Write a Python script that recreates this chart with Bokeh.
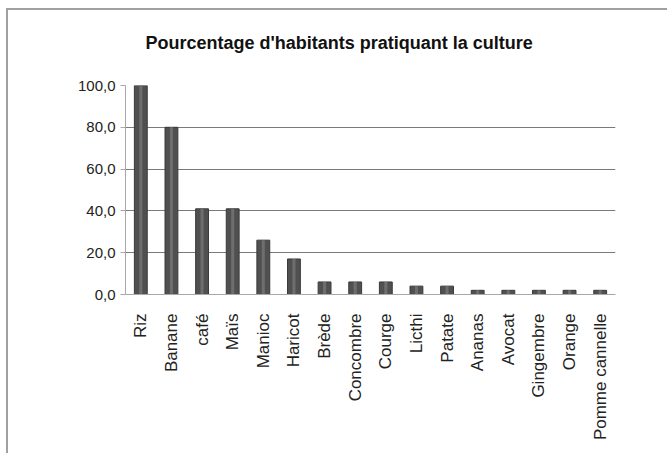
from bokeh.plotting import figure
from bokeh.models import FactorRange, Range1d, FixedTicker, Title
from bokeh.embed import file_html
from bokeh.resources import INLINE

categories = ["Riz", "Banane", "café", "Maïs", "Manioc", "Haricot", "Brède", "Concombre",
              "Courge", "Licthi", "Patate", "Ananas", "Avocat", "Gingembre", "Orange", "Pomme cannelle"]
values = [100.0, 80.0, 41.0, 41.0, 26.0, 17.0, 6.0, 6.0, 6.0, 4.0, 4.0, 2.0, 2.0, 2.0, 2.0, 2.0]
y_ticks = [0, 20, 40, 60, 80, 100]
y_tick_labels = ["0,0", "20,0", "40,0", "60,0", "80,0", "100,0"]
title_text = "Pourcentage d'habitants pratiquant la culture"

FONT = "Liberation Sans"

p = figure(x_range=FactorRange(*categories), y_range=Range1d(0, 100),
           width=661, height=445, output_backend="svg", toolbar_location=None,
           min_border_left=117, min_border_right=54, min_border_top=75, min_border_bottom=161)
p.styles = {"border-left": "2px solid #a0a0a0", "border-top": "2px solid #a0a0a0",
            "margin-left": "6px", "margin-top": "8px"}

p.vbar(x=categories, top=values, width=0.42, fill_color="#505050", line_color="#3a3a3a", line_width=1)
p.vbar(x=categories, top=values, width=0.10, bottom=0,
       fill_color="#6e6e6e", line_color=None)

# built-in title kept empty; spacer + real title stacked above the frame
p.title.text = ""
p.title.text_font_size = "0px"
p.title.standoff = 0

spacer = Title(text=" ", text_font=FONT, text_font_size="18px", standoff=11)
p.add_layout(spacer, "above")
main_title = Title(text=title_text, text_font=FONT, text_font_size="18px",
                   text_font_style="bold", text_color="#111111",
                   align="left", offset=20, standoff=0)
p.add_layout(main_title, "above")

p.outline_line_color = None
p.xgrid.grid_line_color = None
p.ygrid.grid_line_color = "#7a7a7a"
p.ygrid.grid_line_width = 1

p.yaxis.ticker = FixedTicker(ticks=y_ticks)
p.yaxis.major_label_overrides = {t: l for t, l in zip(y_ticks, y_tick_labels)}
p.yaxis.axis_line_color = "#a8a8a8"
p.yaxis.major_tick_line_color = "#a8a8a8"
p.yaxis.major_tick_out = 5
p.yaxis.major_tick_in = 0
p.yaxis.minor_tick_line_color = None
p.yaxis.major_label_text_font = FONT
p.yaxis.major_label_text_font_size = "15px"
p.yaxis.major_label_text_color = "#222222"
p.yaxis.major_label_standoff = 5

p.xaxis.axis_line_color = "#a8a8a8"
p.xaxis.major_tick_line_color = None
p.xaxis.major_tick_out = 0
p.xaxis.major_tick_in = 0
p.xaxis.major_label_orientation = 1.5708
p.xaxis.major_label_text_font = FONT
p.xaxis.major_label_text_font_size = "17px"
p.xaxis.major_label_text_color = "#222222"
p.xaxis.major_label_standoff = 19

open("out.html", "w").write(file_html(p, INLINE))
